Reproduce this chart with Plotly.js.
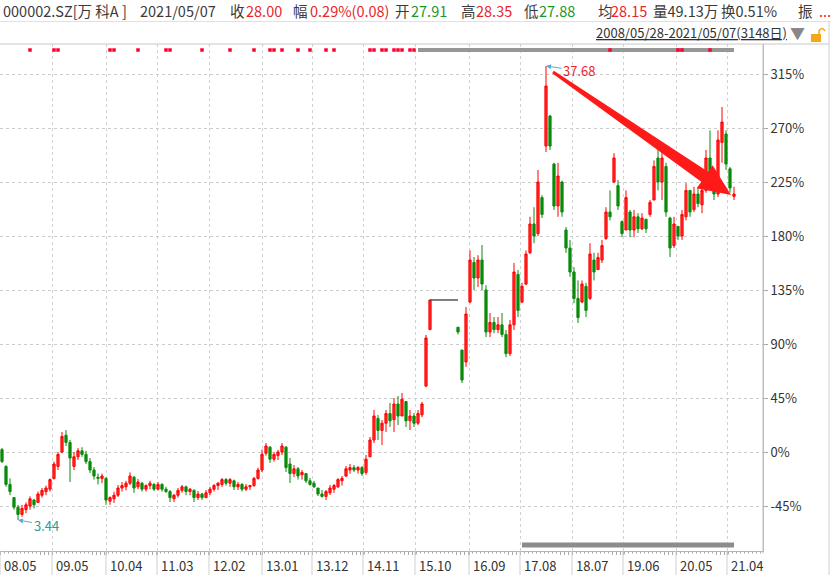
<!DOCTYPE html>
<html><head><meta charset="utf-8">
<script src="https://cdn.plot.ly/plotly-3.0.1.min.js"></script>
<style>html,body{margin:0;padding:0;background:#fff;}#chart{width:831px;height:575px;}</style>
</head><body><div id="chart"></div>
<script>
// ---- data (percent change vs. first bar; each bar = ~17 trading days) ----
const openPct  = [2,-12,-27,-38,-46,-52,-48,-45,-40,-42,-36,-33,-31,-22,-12,0,14,8,-12,-4,1,-2,-8,-15,-21,-22,-22,-41,-39,-36,-30,-29,-26,-21,-29,-26,-31,-28,-27,-31,-27,-31,-33,-39,-36,-32,-29,-33,-32,-38,-35,-38,-34,-31,-28,-27,-23,-26,-24,-29,-27,-31,-29,-28,-22,-15,-1,4,-6,-3,0,4,-10,-18,-14,-19,-18,-24,-26,-30,-35,-37,-34,-31,-29,-24,-20,-15,-13,-15,-13,-17,-4,10,28,18,24,32,27,40,30,42,26,30,24,31,55,102,null,null,null,null,null,null,104,85,75,125,158,145,160,135,100,108,102,106,98,82,106,148,125,140,166,190,182,212,255,280,240,205,225,185,170,150,128,125,138,128,160,152,160,178,200,225,222,192,185,200,185,196,186,194,198,210,245,225,238,195,172,188,180,196,218,202,215,206,218,245,228,215,258,265,236,213];
const highPct  = [3.3,-11,-22,-37.5,-44,-44,-42,-37,-39,-33,-30,-28,-22,-8,0,16.7,18.3,10,0,3.3,4,1,-5,-12.5,-18,-18,-21,-37,-33,-27.5,-25,-24,-17,-20,-22.5,-25,-27,-24,-26,-25,-26,-29,-31.7,-35,-30,-27.5,-28,-30,-31,-32.5,-34,-31.7,-29,-26.7,-25,-21.7,-21.7,-21.7,-23,-25,-25.8,-26.7,-27.5,-20.8,-13,2,7.5,5,0,1.7,7.5,5,-5,-10.8,-12.5,-15,-17.5,-21.7,-24,-30,-31.7,-31.7,-27.5,-26.7,-21.7,-20,-11.7,-10,-10.8,-11.7,-11.7,-2.5,12.5,35,30.8,26.7,35,40.8,45,46.7,49.2,42,35,32.5,35,41.7,97.5,126.7,null,null,null,null,null,null,104,85,120.8,168,162.5,164,172.5,139,115.8,112.5,112.5,115.8,101.7,110,157.5,151.7,141,168,196,204,235,214,321.7,281,241,241,226,187.5,176.7,154,143,143,141,174,166,166,176.7,204,218,249,226.7,193,218,201.7,201.7,199,199,194,210,243,254,251.7,241,196,196,188,201.7,224,218,221,221,224,251.7,268,229,268,287.5,268,237.5,221];
const lowPct   = [-9.2,-29,-36,-48,-56.7,-54,-51,-48,-47,-42.5,-38,-36,-33,-23,-15,-1,5,-25,-15,-6.7,-4,-10,-17.5,-23,-27,-26,-44,-44,-42.5,-37.5,-33,-32,-27.5,-34,-31,-33,-33,-31,-32.5,-32,-33,-34,-41.7,-41.7,-38,-34,-36,-36,-41.7,-40,-40,-38.3,-36,-33,-31.7,-29,-28,-29,-31.7,-31.7,-33,-32.5,-31.7,-29,-23,-16.7,-3,-9,-8,-6.7,-2.5,-16.7,-25.8,-20.8,-23,-23,-25.8,-28,-30,-36.7,-38,-40,-35.8,-34,-30,-28,-20.8,-18,-16.7,-18,-20,-19,-4,7.5,10,5.8,16.7,20.8,16.7,22.5,30,20.8,18.3,20.8,22.5,29,54,101.7,null,null,null,null,null,null,98,57.5,71,124,135,137.5,135,95.8,95.8,99,99,95.8,79,80,101.7,112.5,124,139,165,174,180,195,250,251.7,201.7,196,196,166,146,124,107.5,124,112.5,126.7,143,151.7,157.5,176.7,193,224,201.7,179,185,179,179,182.5,185,182.5,196,210,218,210,196,162.5,170,176.7,176.7,193,196,200,204,199,216,226,210,212.5,241,235,216,210];
const closePct = [-8,-27,-33,-46,-52,-47,-44,-39,-44,-35,-32,-30,-23,-10,-2,13,8,-5,-4,1,-2,-8,-15,-20,-22,-20,-40,-38,-36,-30,-28,-26,-20,-30,-25,-31,-28,-26,-31,-27,-31,-33,-38,-36,-32,-29,-33,-31,-38,-35,-38,-34,-31,-28,-26,-23,-26,-23,-29,-27,-31,-29,-28,-22,-15,-2,5,-6,-2,0,5,-13,-18,-14,-20,-17,-24,-27,-29,-35,-37,-33,-30,-28,-23,-22,-14,-13,-15,-13,-18,-6,10,30,18,24,32,26,40,30,44,26,30,24,32,40,95,126.7,null,null,null,null,null,null,100,60,115,160,145,160,140,100,108,102,106,98,82,106,150,118,138,165,190,180,225,198,305,255,205,230,200,170,150,128,112,140,118,165,150,162,172,200,196,245,205,182,212,185,196,186,195,186,208,238,225,245,200,170,190,180,198,218,200,215,207,218,245,230,215,260,275,240,220,215];
const suspendBars = [107, 114];            // trading suspension (flat line)
const dateTickBars = [0,13,26.5,39.25,52.25,65.5,78,90.75,103.75,117.25,130,143,155.75,169,181.75];
const dateTickLabels = ['08.05','09.05','10.04','11.03','12.02','13.01','13.12','14.11','15.10','16.09','17.08','18.07','19.06','20.05','21.04'];
const pctTicks = [-45,0,45,90,135,180,225,270,315];
const eventBars = [7,13,14,27,28,34,41,42,50,57,63,67,68,70,74,77,81,83,92,93,95,96,98,99,100,102,103,152,169,170,177];
const eventBandBars = [104, 183];
const lowerBandBars = [130, 183];
const peakLabel = '37.68', lowLabel = '3.44';
const headerItems = [
  ['000002.SZ[万 科A ]','g',2],['2021/05/07','g',139],['收','g',229],['28.00','r',245],
  ['幅','g',292],['0.29%(0.08)','r',309],['开','g',394],['27.91','d',410],
  ['高','g',460],['28.35','r',475],['低','g',523],['27.88','d',538],
  ['均','g',597],['28.15','r',610],['量49.13万','g',652],['换0.51%','g',720],['振','g',797],['...','r',818]
];
const rangeText = '2008/05/28-2021/05/07(3148日)';

// ---- layout geometry ----
const W = 831, H = 575, M = {l:0, r:68, t:44, b:24};
const PW = W - M.l - M.r, PH = H - M.t - M.b;
const XR = [0, 190.75], YR = [-82.5, 340];
const FONT = 'Noto Sans CJK SC, Noto Sans, sans-serif';
const RED = '#e8262b', GREEN = '#22962a', GRAY = '#3a3a3a';
const px2x = p => XR[0] + (p - M.l) / PW * (XR[1] - XR[0]);
const py2y = p => YR[0] + (M.t + PH - p) / PH * (YR[1] - YR[0]);
const x2px = x => M.l + (x - XR[0]) / (XR[1] - XR[0]) * PW;
const y2py = y => M.t + PH - (y - YR[0]) / (YR[1] - YR[0]) * PH;
const ppx = p => (p - M.l) / PW, ppy = p => (M.t + PH - p) / PH;

const xs = openPct.map((_, i) => i + 0.5);

const traces = [];
traces.push({
  type:'candlestick', x: xs, open: openPct, high: highPct, low: lowPct, close: closePct,
  increasing:{line:{color:'#ff0000', width:1}, fillcolor:'#ff2a2a'},
  decreasing:{line:{color:'#0a8a0a', width:1}, fillcolor:'#0a8a0a'},
  whiskerwidth:0, hoverinfo:'skip', showlegend:false
});
traces.push({
  type:'scatter', mode:'lines', x:[suspendBars[0]+0.5, suspendBars[1]+0.5],
  y:[closePct[suspendBars[0]], closePct[suspendBars[0]]],
  line:{color:'#555', width:1.5}, hoverinfo:'skip', showlegend:false
});
// event marker bands
const bandY = py2y(50), lowBandY = py2y(545);
traces.push({type:'scatter', mode:'lines', x:[eventBandBars[0]+0.5, eventBandBars[1]+0.5], y:[bandY,bandY],
  line:{color:'#969696', width:4}, hoverinfo:'skip', showlegend:false});
traces.push({type:'scatter', mode:'lines', x:[lowerBandBars[0]+0.5, lowerBandBars[1]+0.5], y:[lowBandY,lowBandY],
  line:{color:'#8c8c8c', width:5}, hoverinfo:'skip', showlegend:false});
traces.push({type:'scatter', mode:'markers', x:eventBars.map(b=>b+0.5), y:eventBars.map(()=>bandY),
  marker:{symbol:'square', size:3.5, color:'#ff0030', line:{width:0}}, hoverinfo:'skip', showlegend:false});

// peak / low
let pk = 0, lo = 0;
highPct.forEach((v,i)=>{ if (v!==null && v > highPct[pk]) pk = i; });
lowPct.forEach((v,i)=>{ if (v!==null && v < lowPct[lo]) lo = i; });
const last = closePct.length - 1;

const annotations = [];
annotations.push({x: xs[pk], y: highPct[pk], text: peakLabel, showarrow:true, ax:33, ay:5,
  arrowcolor:'#5aaad8', arrowwidth:1, arrowhead:2, arrowsize:1, standoff:0,
  font:{family:FONT, size:13, color:RED}});
annotations.push({x: xs[lo], y: lowPct[lo], text: lowLabel, showarrow:true, ax:28, ay:5,
  arrowcolor:'#5aaad8', arrowwidth:1, arrowhead:2, arrowsize:1, standoff:0,
  font:{family:FONT, size:13, color:'#2a9d8f'}});
// x tick labels
dateTickBars.forEach((b,i)=>{
  annotations.push({xref:'x', yref:'paper', x:b, y:0, xanchor:'left', yanchor:'top', xshift:1, yshift:-2,
    text:dateTickLabels[i], showarrow:false, bgcolor:'#ffffff', borderpad:2,
    font:{family:FONT, size:13, color:'#333'}});
});
// header
const colMap = {g:GRAY, r:RED, d:GREEN};
headerItems.forEach(([t,c,p])=>{
  annotations.push({xref:'paper', yref:'paper', x:ppx(p), y:ppy(11), xanchor:'left', yanchor:'middle',
    text:t, showarrow:false, borderpad:0, font:{family:FONT, size:14.5, color:colMap[c]}});
});
annotations.push({xref:'paper', yref:'paper', x:ppx(595), y:ppy(33), xanchor:'left', yanchor:'middle',
  text:'<u>'+rangeText+'</u>', showarrow:false, borderpad:0, font:{family:FONT, size:13, color:'#333'}});
annotations.push({xref:'paper', yref:'paper', x:ppx(789), y:ppy(33), xanchor:'left', yanchor:'middle',
  text:'▼', showarrow:false, borderpad:0, font:{family:FONT, size:15, color:'#888'}});

// big red arrow (from peak toward latest close)
const T = [x2px(xs[pk]) + 7, y2py(highPct[pk]) + 6];
const P = [x2px(xs[last]) - 3, y2py(closePct[last]) + 1];
const dx = P[0]-T[0], dy = P[1]-T[1], L = Math.hypot(dx,dy);
const u = [dx/L, dy/L], n = [-u[1], u[0]];
const hl = 32, hw = 14, w0 = 1.5, w1 = 6;
const B = [P[0]-u[0]*hl, P[1]-u[1]*hl];
const pts = [
  [T[0]+n[0]*w0, T[1]+n[1]*w0], [B[0]+n[0]*w1, B[1]+n[1]*w1], [B[0]+n[0]*hw, B[1]+n[1]*hw], P,
  [B[0]-n[0]*hw, B[1]-n[1]*hw], [B[0]-n[0]*w1, B[1]-n[1]*w1], [T[0]-n[0]*w0, T[1]-n[1]*w0]
];
const arrowPath = 'M' + pts.map(p => px2x(p[0]) + ',' + py2y(p[1])).join(' L') + ' Z';

const shapes = [
  {type:'path', xref:'x', yref:'y', path:arrowPath, fillcolor:'#ff1a1a', line:{width:0}},
  ...dateTickBars.map(b=>({type:'line', xref:'x', yref:'paper', x0:b, x1:b, y0:0, y1:ppy(575), line:{color:'#cfcfcf', width:1}})),
  {type:'line', xref:'paper', yref:'paper', x0:1, x1:1, y0:ppy(575), y1:1, line:{color:'#bdbdbd', width:1}},
  {type:'line', xref:'paper', yref:'paper', x0:0, x1:ppx(829), y0:1, y1:1, line:{color:'#c8c8c8', width:1}},
  {type:'line', xref:'paper', yref:'paper', x0:0, x1:ppx(831), y0:ppy(21.5), y1:ppy(21.5), line:{color:'#e0e0e0', width:1}},
  {type:'line', xref:'paper', yref:'paper', x0:ppx(829), x1:ppx(829), y0:ppy(575), y1:ppy(21.5), line:{color:'#d0d0d0', width:1}},
  {type:'rect', xref:'paper', yref:'paper', x0:ppx(811), x1:ppx(821), y0:ppy(42), y1:ppy(34), fillcolor:'#f2a818', line:{width:0}},
  {type:'path', xref:'paper', yref:'paper', path:`M${ppx(819)},${ppy(34)} L${ppx(819)},${ppy(31)} Q${ppx(822)},${ppy(26)} ${ppx(825)},${ppy(31)}`, line:{color:'#f2a818', width:1.5}}
];

const layout = {
  width:W, height:H, margin:{l:M.l, r:M.r, t:M.t, b:M.b, pad:0},
  paper_bgcolor:'#fff', plot_bgcolor:'#fff', showlegend:false, boxgap:0.45, boxgroupgap:0,
  xaxis:{range:XR, type:'linear', rangeslider:{visible:false}, tickmode:'array', tickvals:dateTickBars,
    showticklabels:false, ticks:'outside', ticklen:3, tickcolor:'#aaa',
    minor:{ticks:'outside', ticklen:3, tickcolor:'#aaa', dtick:1, tick0:0, showgrid:false},
    showgrid:true, gridcolor:'#d2d2d2', griddash:'dot', gridwidth:1,
    showline:true, linecolor:'#b4b4b4', linewidth:1, zeroline:false, fixedrange:true},
  yaxis:{range:YR, side:'right', tickmode:'array', tickvals:pctTicks, ticktext:pctTicks.map(v=>v+'%'),
    ticks:'outside', ticklen:4, tickcolor:'#aaa', showline:true, linecolor:'#bdbdbd',
    showgrid:true, gridcolor:'#cbcbcb', griddash:'dot', zeroline:false,
    tickfont:{family:FONT, size:13, color:'#333'}, fixedrange:true},
  annotations, shapes, font:{family:FONT}
};
Plotly.newPlot('chart', traces, layout, {displayModeBar:false, staticPlot:true});
</script></body></html>
